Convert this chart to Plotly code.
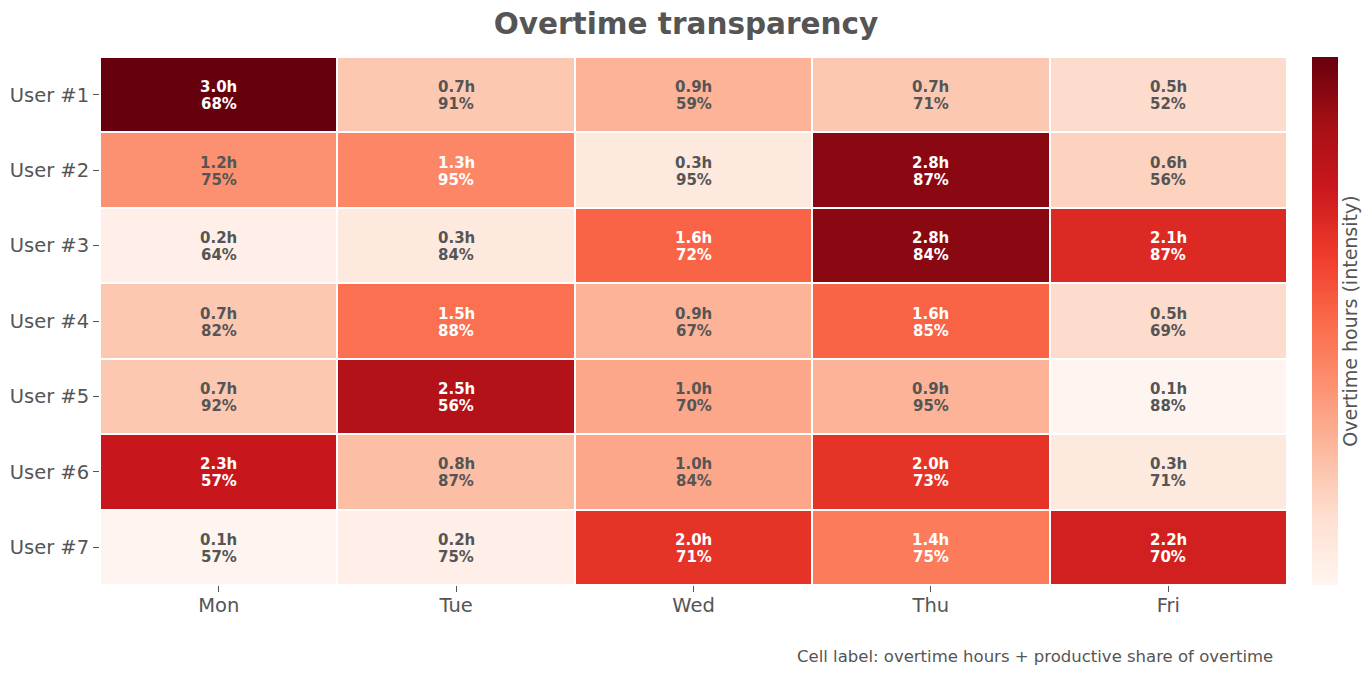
import plotly.graph_objects as go

users = ["User #1", "User #2", "User #3", "User #4", "User #5", "User #6", "User #7"]
days = ["Mon", "Tue", "Wed", "Thu", "Fri"]
hours = [
    [3.0, 0.7, 0.9, 0.7, 0.5],
    [1.2, 1.3, 0.3, 2.8, 0.6],
    [0.2, 0.3, 1.6, 2.8, 2.1],
    [0.7, 1.5, 0.9, 1.6, 0.5],
    [0.7, 2.5, 1.0, 0.9, 0.1],
    [2.3, 0.8, 1.0, 2.0, 0.3],
    [0.1, 0.2, 2.0, 1.4, 2.2],
]
productive = [
    [68, 91, 59, 71, 52],
    [75, 95, 95, 87, 56],
    [64, 84, 72, 84, 87],
    [82, 88, 67, 85, 69],
    [92, 56, 70, 95, 88],
    [57, 87, 84, 73, 71],
    [57, 75, 71, 75, 70],
]

reds = ['rgb(255,245,240)', 'rgb(254,224,210)', 'rgb(252,187,161)', 'rgb(252,146,114)',
        'rgb(251,106,74)', 'rgb(239,59,44)', 'rgb(203,24,29)', 'rgb(165,15,21)', 'rgb(103,0,13)']
cscale = [[i / (len(reds) - 1), c] for i, c in enumerate(reds)]

zmin, zmax = 0.1, 3.0
gray = "#555555"
FONT = "DejaVu Sans"

fig = go.Figure(go.Heatmap(
    z=hours, x=days, y=users,
    colorscale=cscale, zmin=zmin, zmax=zmax,
    xgap=2, ygap=2,
    hoverinfo="skip",
    colorbar=dict(
        x=1.021, xanchor="left", xpad=0, y=0.5, yanchor="middle", len=1, ypad=0,
        thickness=26, outlinewidth=0, showticklabels=False, ticks="",
        title=dict(text="Overtime hours (intensity)", side="right",
                   font=dict(size=19, color=gray, family=FONT)),
    ),
))

annotations = []
for i, u in enumerate(users):
    for j, d in enumerate(days):
        h = hours[i][j]
        frac = (h - zmin) / (zmax - zmin)
        col = "white" if frac > 0.4 else gray
        annotations.append(dict(
            x=d, y=u, xref="x", yref="y", showarrow=False, yshift=7.5,
            text=f"<b>{h:.1f}h</b>",
            font=dict(size=15, color=col, family=FONT),
        ))
        annotations.append(dict(
            x=d, y=u, xref="x", yref="y", showarrow=False, yshift=-9.5,
            text=f"<b>{productive[i][j]}%</b>",
            font=dict(size=15, color=col, family=FONT),
        ))
annotations.append(dict(
    x=0.99, y=-0.136, xref="paper", yref="paper", xanchor="right", yanchor="middle",
    showarrow=False, text="Cell label: overtime hours + productive share of overtime",
    font=dict(size=16.5, color=gray, family=FONT),
))

fig.update_layout(
    width=1356, height=660,
    margin=dict(l=92, r=77, t=49, b=83, autoexpand=False),
    paper_bgcolor="white", plot_bgcolor="white",
    font=dict(family=FONT, color=gray),
    title=dict(text="<b>Overtime transparency</b>", x=0.5, xanchor="center",
               y=1 - 16 / 660, yanchor="middle",
               font=dict(size=29.5, color=gray, family=FONT)),
    annotations=annotations,
)
fig.update_xaxes(showgrid=False, zeroline=False, ticks="outside", ticklen=6, automargin=False,
                 ticklabelstandoff=-3,
                 tickcolor=gray, tickfont=dict(size=19.5, color=gray), showline=False)
fig.update_yaxes(autorange="reversed", showgrid=False, zeroline=False, ticks="outside",
                 automargin=False, ticklen=6, tickcolor=gray,
                 tickfont=dict(size=19.5, color=gray), showline=False)

fig.write_html("out.html")
